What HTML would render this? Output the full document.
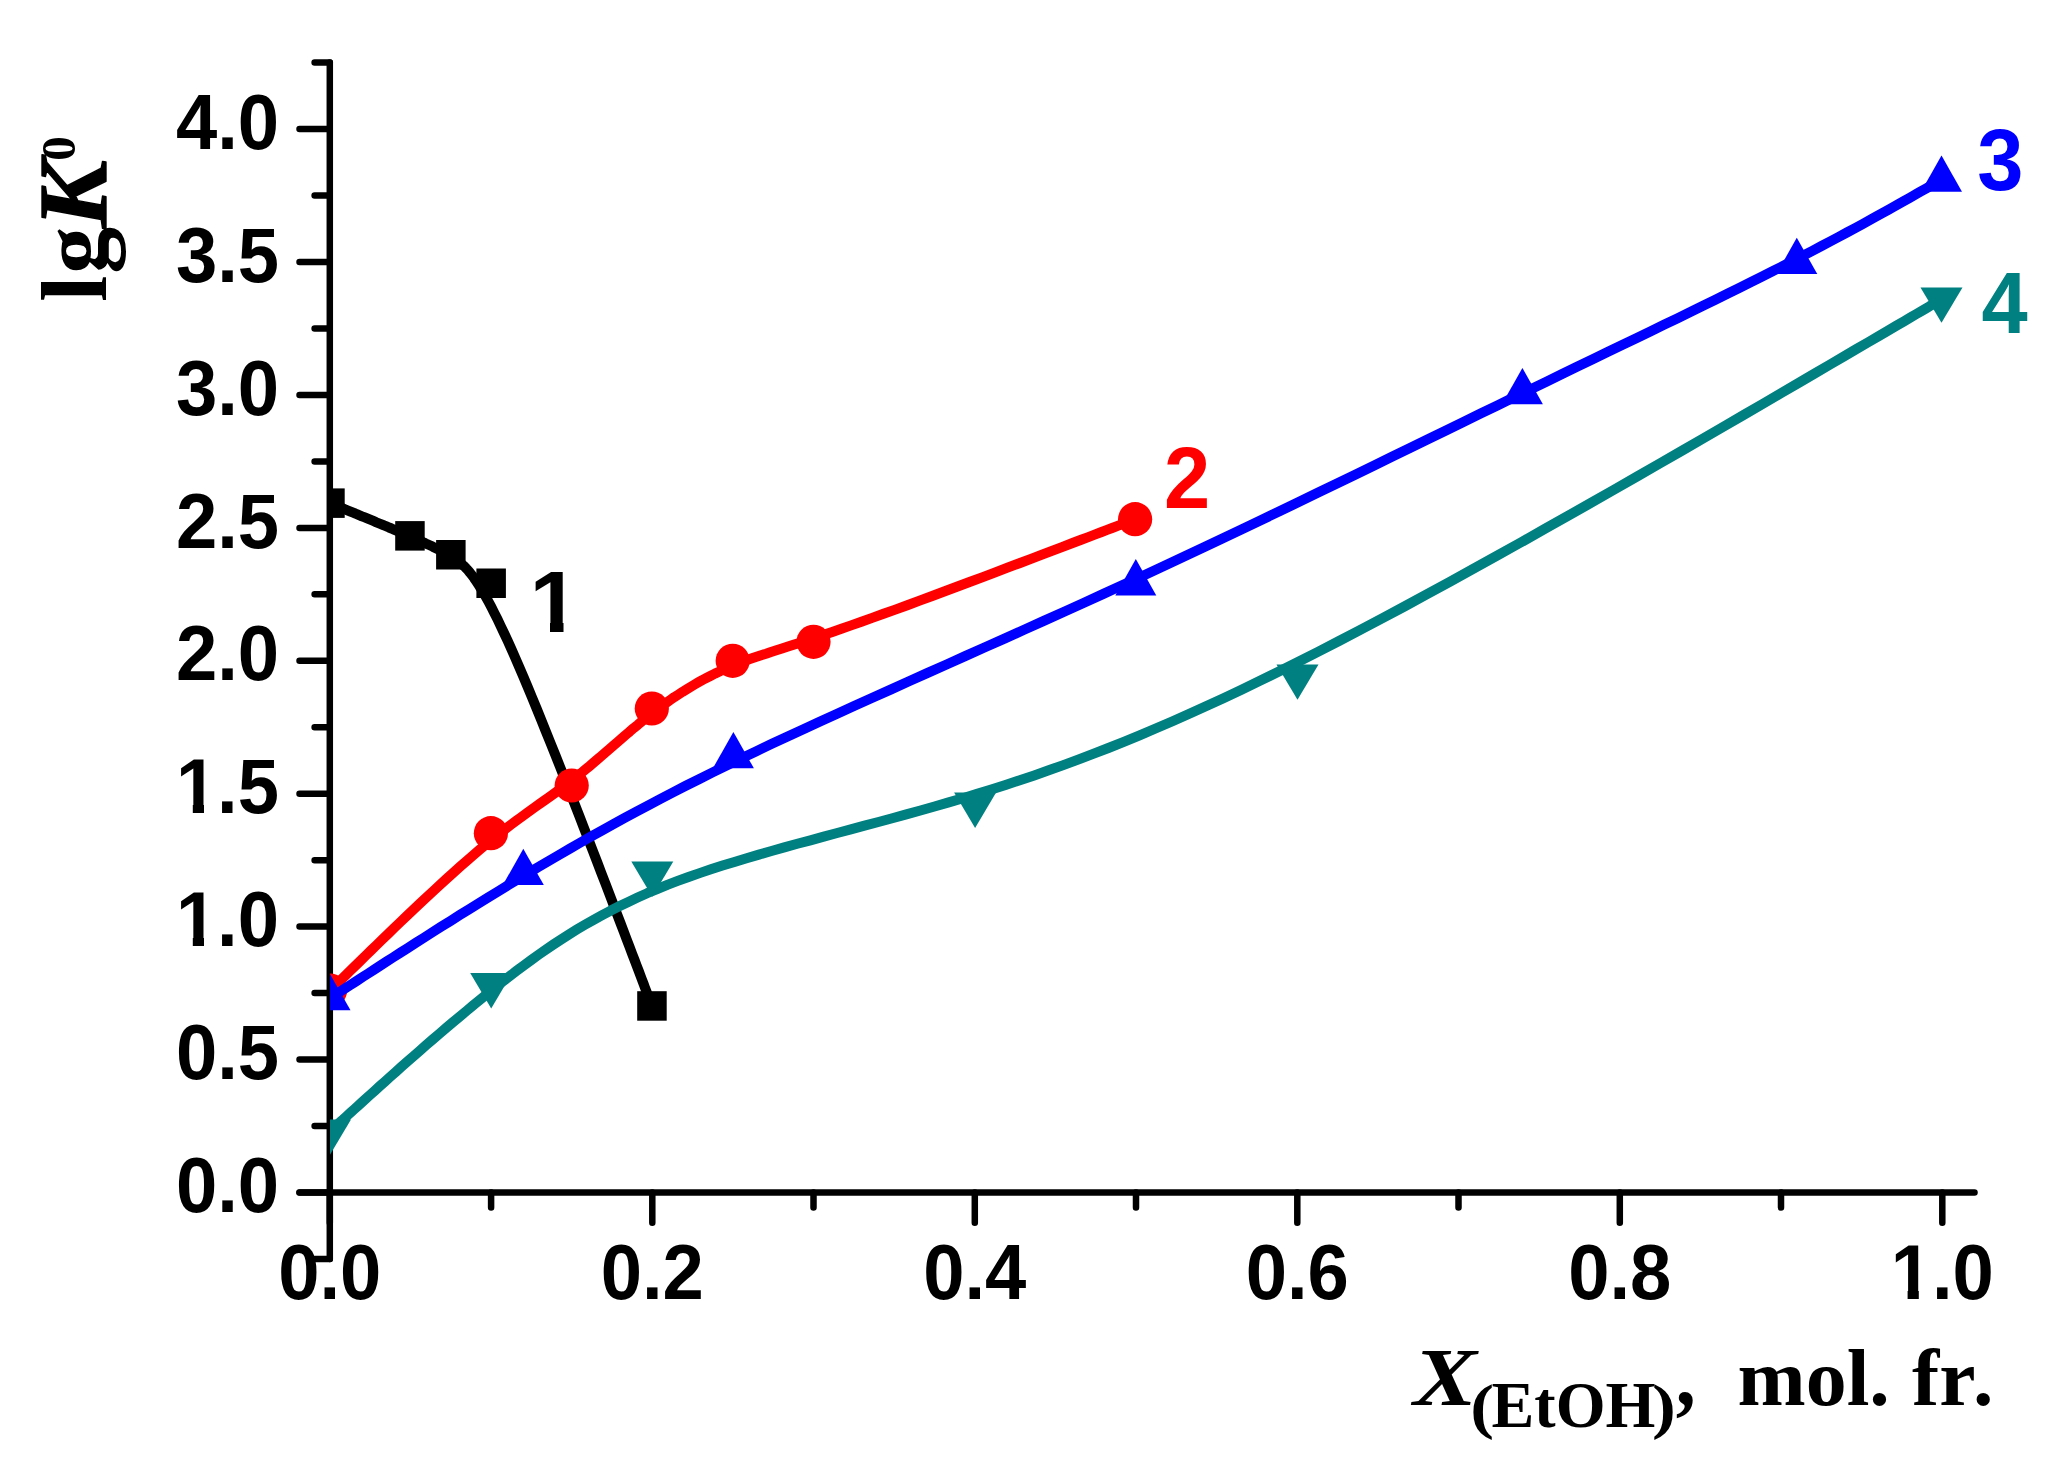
<!DOCTYPE html>
<html lang="en">
<head>
<meta charset="utf-8">
<title>lgK0 vs X(EtOH)</title>
<style>
html,body{margin:0;padding:0;background:#fff;}
body{width:2070px;height:1482px;overflow:hidden;}
svg{display:block;}
</style>
</head>
<body>
<svg width="2070" height="1482" viewBox="0 0 2070 1482">
<rect width="2070" height="1482" fill="#fff"/>
<g stroke="#000" stroke-width="6.5" stroke-linecap="round" stroke-linejoin="round" fill="none">
<path d="M329.8 62.6V1259"/>
<path d="M299.5 1192.5H1974.5"/>
<path d="M314.6 1259H329.8M299.5 1192.5H329.8M314.6 1126H329.8M299.5 1059.6H329.8M314.6 993.1H329.8M299.5 926.6H329.8M314.6 860.2H329.8M299.5 793.7H329.8M314.6 727.3H329.8M299.5 660.8H329.8M314.6 594.3H329.8M299.5 527.9H329.8M314.6 461.4H329.8M299.5 394.9H329.8M314.6 328.5H329.8M299.5 262H329.8M314.6 195.6H329.8M299.5 129.1H329.8M314.6 62.6H329.8"/>
<path d="M329.8 1192.5V1222.7M491.1 1192.5V1207.6M652.3 1192.5V1222.7M813.5 1192.5V1207.6M974.8 1192.5V1222.7M1136 1192.5V1207.6M1297.3 1192.5V1222.7M1458.5 1192.5V1207.6M1619.8 1192.5V1222.7M1781 1192.5V1207.6M1942.3 1192.5V1222.7"/>
</g>
<g font-family="'Liberation Sans',Arial,sans-serif" font-weight="bold" fill="#000">
<text transform="translate(175.9 1212.1) scale(1.0 1.042)" font-size="74.2">0.0</text>
<text transform="translate(175.9 1079.2) scale(1.0 1.042)" font-size="74.2">0.5</text>
<clipPath id="k742"><path d="M-9 -74.2H28.1V9H16.9V-8H-9Z"/></clipPath>
<g transform="translate(175.9 946.2) scale(1.0 1.042)"><text clip-path="url(#k742)" font-size="74.2">1</text></g>
<text transform="translate(217.1 946.2) scale(1.0 1.042)" font-size="74.2">.0</text>
<g transform="translate(175.9 813.3) scale(1.0 1.042)"><text clip-path="url(#k742)" font-size="74.2">1</text></g>
<text transform="translate(217.1 813.3) scale(1.0 1.042)" font-size="74.2">.5</text>
<text transform="translate(175.9 680.4) scale(1.0 1.042)" font-size="74.2">2.0</text>
<text transform="translate(175.9 547.5) scale(1.0 1.042)" font-size="74.2">2.5</text>
<text transform="translate(175.9 414.5) scale(1.0 1.042)" font-size="74.2">3.0</text>
<text transform="translate(175.9 281.6) scale(1.0 1.042)" font-size="74.2">3.5</text>
<text transform="translate(175.9 148.7) scale(1.0 1.042)" font-size="74.2">4.0</text>
<text transform="translate(278.2 1299.3) scale(1.0 1.042)" font-size="74.2">0.0</text>
<text transform="translate(600.7 1299.3) scale(1.0 1.042)" font-size="74.2">0.2</text>
<text transform="translate(923.2 1299.3) scale(1.0 1.042)" font-size="74.2">0.4</text>
<text transform="translate(1245.7 1299.3) scale(1.0 1.042)" font-size="74.2">0.6</text>
<text transform="translate(1568.2 1299.3) scale(1.0 1.042)" font-size="74.2">0.8</text>
<g transform="translate(1890.7 1299.3) scale(1.0 1.042)"><text clip-path="url(#k742)" font-size="74.2">1</text></g>
<text transform="translate(1932 1299.3) scale(1.0 1.042)" font-size="74.2">.0</text>
</g>
<clipPath id="c"><rect x="330" y="0" width="1740" height="1482"/></clipPath>
<g clip-path="url(#c)" fill="none" stroke-width="10" stroke-linejoin="round">
<path stroke="#000" d="M330 503.2L330 503.2L330 503.2L330 503.2L330 503.2L330.1 503.2L330.2 503.3L330.2 503.3L330.4 503.3L330.5 503.4L330.7 503.5L331 503.6L331.2 503.7L331.6 503.8L332 504L332.4 504.2L332.9 504.4L333.5 504.6L334.2 504.9L334.9 505.2L335.7 505.5L336.6 505.9L337.6 506.3L338.7 506.8L339.9 507.2L341.2 507.8L342.6 508.3L344.1 509L345.7 509.6L347.4 510.3L349.3 511.1L351.2 511.9L353.2 512.7L355.3 513.5L357.4 514.4L359.6 515.3L361.9 516.3L364.2 517.2L366.6 518.2L369 519.2L371.5 520.2L373.9 521.2L376.4 522.3L379 523.3L381.5 524.3L384 525.4L386.5 526.4L389 527.5L391.5 528.5L394 529.6L396.4 530.6L398.8 531.6L401.2 532.6L403.5 533.6L405.7 534.5L407.9 535.5L410.1 536.4L412.2 537.3L414.2 538.2L416.2 539.1L418.2 540L420.1 540.8L422 541.7L423.9 542.5L425.7 543.4L427.4 544.2L429.2 545L430.9 545.8L432.6 546.6L434.3 547.5L435.9 548.3L437.5 549.1L439.1 549.9L440.7 550.7L442.3 551.6L443.9 552.4L445.4 553.3L447 554.1L448.5 555L450 555.9L451.6 556.8L453.1 557.7L454.6 558.6L456.2 559.7L457.8 560.8L459.4 562L461 563.4L462.7 564.9L464.5 566.5L466.2 568.4L468.1 570.4L470 572.7L472 575.3L474.1 578.1L476.2 581.2L478.5 584.6L480.8 588.4L483.3 592.5L485.9 597L488.6 601.9L491.4 607.2L494.3 612.9L497.4 619.1L500.6 625.8L504 633L507.6 640.7L511.3 648.9L515.2 657.7L519.2 667L523.4 676.8L527.7 687L532.1 697.6L536.6 708.5L541.2 719.8L545.8 731.3L550.5 743L555.3 754.8L560 766.8L564.8 778.9L569.6 791L574.3 803.1L579 815.1L583.6 827.1L588.2 838.9L592.7 850.5L597.1 861.9L601.3 873L605.5 883.8L609.5 894.2L613.3 904.2L616.9 913.8L620.4 922.9L623.7 931.5L626.7 939.4L629.5 946.8L632.1 953.7L634.5 959.9L636.7 965.7L638.7 970.9L640.5 975.7L642.1 980L643.6 983.9L644.9 987.4L646.1 990.5L647.1 993.2L648 995.6L648.8 997.7L649.5 999.5L650.1 1001L650.6 1002.2L651 1003.2L651.3 1004.1L651.5 1004.7L651.7 1005.2L651.8 1005.5L651.9 1005.8L652 1005.9L652 1006L652 1006L652 1006"/>
<g fill="#000" stroke="none">
<rect x="315.2" y="488.4" width="29.5" height="29.5"/>
<rect x="395.2" y="521.1" width="29.5" height="29.5"/>
<rect x="436.1" y="540" width="29.5" height="29.5"/>
<rect x="476.4" y="568.5" width="29.5" height="29.5"/>
<rect x="637.2" y="991.2" width="29.5" height="29.5"/>
</g>
<path stroke="#f00" d="M330 990.5L330 990.5L330 990.5L330.1 990.4L330.2 990.3L330.4 990.1L330.7 989.8L331.2 989.4L331.7 988.8L332.5 988.1L333.4 987.2L334.5 986.1L335.9 984.7L337.5 983.2L339.4 981.3L341.5 979.2L344 976.8L346.8 974.1L349.9 971L353.4 967.6L357.3 963.8L361.6 959.6L366.3 955L371.3 950.1L376.6 945L382.2 939.5L388.1 933.9L394.1 928L400.4 922L406.8 915.9L413.4 909.7L420 903.4L426.7 897.1L433.5 890.9L440.2 884.6L446.9 878.5L453.6 872.5L460.2 866.6L466.6 860.9L472.9 855.4L479.1 850.2L485 845.2L490.7 840.5L496.3 836.1L501.7 831.8L506.9 827.8L512 823.9L516.9 820.2L521.8 816.7L526.5 813.3L531 810L535.5 806.8L539.9 803.7L544.2 800.6L548.5 797.6L552.7 794.6L556.8 791.6L560.9 788.6L565 785.6L569.1 782.6L573.1 779.4L577.1 776.2L581.2 773L585.2 769.7L589.3 766.3L593.3 762.9L597.4 759.4L601.4 756L605.4 752.5L609.5 749L613.5 745.5L617.6 742L621.6 738.5L625.6 735L629.7 731.6L633.7 728.1L637.8 724.8L641.8 721.4L645.9 718.2L649.9 715L654 711.8L658 708.8L662.1 705.8L666.1 702.9L670.2 700L674.2 697.2L678.3 694.6L682.4 691.9L686.4 689.4L690.5 686.9L694.6 684.5L698.6 682.2L702.7 679.9L706.8 677.8L710.8 675.7L714.9 673.6L719 671.7L723 669.8L727.1 668L731.2 666.2L735.2 664.5L739.3 662.9L743.5 661.4L747.7 659.8L752 658.3L756.5 656.8L761.1 655.2L766 653.7L771 652L776.4 650.3L782 648.5L788 646.6L794.3 644.5L801 642.4L808.1 640L815.7 637.5L823.8 634.8L832.3 631.9L841.4 628.8L851.1 625.4L861.4 621.8L872.2 617.9L883.5 613.8L895.3 609.6L907.3 605.2L919.6 600.6L932.2 596L944.8 591.3L957.5 586.5L970.2 581.8L982.8 577.1L995.3 572.4L1007.5 567.7L1019.4 563.2L1031 558.9L1042 554.7L1052.6 550.6L1062.6 546.8L1071.9 543.3L1080.5 540L1088.3 537.1L1095.3 534.4L1101.6 532L1107.1 529.9L1112.1 528L1116.4 526.3L1120.1 524.9L1123.3 523.7L1126 522.7L1128.3 521.8L1130.1 521.1L1131.6 520.5L1132.8 520.1L1133.6 519.8L1134.2 519.5L1134.7 519.4L1134.9 519.3L1135 519.2L1135.1 519.2L1135.1 519.2"/>
<g fill="#f00" stroke="none">
<circle cx="330" cy="990.5" r="17.1"/>
<circle cx="490.9" cy="833.2" r="17.1"/>
<circle cx="571.7" cy="785.5" r="17.1"/>
<circle cx="651.8" cy="708.5" r="17.1"/>
<circle cx="732.7" cy="660.8" r="17.1"/>
<circle cx="813.5" cy="641.8" r="17.1"/>
<circle cx="1135.1" cy="519.2" r="17.1"/>
</g>
<path stroke="#00f" d="M330 998.2L330 998.2L330 998.2L330.1 998.1L330.3 998L330.5 997.9L330.9 997.6L331.4 997.3L332.1 996.8L333 996.3L334.1 995.5L335.5 994.7L337.1 993.6L339 992.4L341.3 990.9L343.8 989.2L346.8 987.3L350.2 985.1L353.9 982.7L358.1 980L362.8 976.9L368 973.6L373.6 970L379.7 966L386.2 961.8L393.1 957.4L400.3 952.7L407.9 947.9L415.9 942.8L424.1 937.6L432.6 932.1L441.4 926.6L450.5 920.9L459.7 915.1L469.2 909.2L478.8 903.3L488.5 897.2L498.4 891.2L508.4 885.1L518.5 879L528.6 872.9L538.8 866.8L549.1 860.7L559.4 854.7L569.9 848.6L580.5 842.5L591.3 836.4L602.2 830.3L613.4 824.1L624.7 817.9L636.4 811.6L648.3 805.3L660.5 798.9L673 792.4L685.8 785.8L699 779.2L712.6 772.4L726.6 765.5L741 758.5L755.9 751.4L771.3 744.1L787.1 736.7L803.4 729.2L820.1 721.5L837.2 713.7L854.6 705.8L872.4 697.7L890.6 689.6L909 681.3L927.7 672.9L946.6 664.5L965.7 655.9L985 647.3L1004.5 638.6L1024.1 629.8L1043.8 620.9L1063.6 612L1083.5 603L1103.4 593.9L1123.2 584.8L1143.1 575.7L1162.9 566.5L1182.6 557.3L1202.3 548L1221.9 538.7L1241.4 529.5L1260.8 520.2L1280 511L1299.2 501.8L1318.2 492.6L1337 483.5L1355.7 474.5L1374.2 465.5L1392.4 456.6L1410.5 447.8L1428.4 439L1446 430.4L1463.4 422L1480.6 413.6L1497.4 405.4L1514 397.3L1530.3 389.4L1546.4 381.7L1562.1 374L1577.5 366.6L1592.7 359.3L1607.5 352.1L1622.1 345.1L1636.3 338.2L1650.3 331.4L1663.9 324.8L1677.2 318.4L1690.3 312L1703 305.8L1715.4 299.8L1727.4 293.8L1739.2 288L1750.6 282.3L1761.7 276.8L1772.5 271.3L1783 266L1793.1 260.8L1802.9 255.8L1812.4 250.8L1821.5 246L1830.3 241.4L1838.8 236.9L1846.9 232.5L1854.7 228.3L1862.1 224.3L1869.2 220.4L1875.9 216.7L1882.3 213.2L1888.3 209.8L1894 206.7L1899.3 203.7L1904.2 200.9L1908.8 198.3L1913.1 195.9L1916.9 193.7L1920.4 191.7L1923.6 189.9L1926.4 188.3L1928.9 186.9L1931.1 185.6L1933.1 184.5L1934.8 183.5L1936.2 182.7L1937.4 182L1938.4 181.4L1939.3 181L1939.9 180.6L1940.4 180.3L1940.8 180.1L1941.1 179.9L1941.3 179.8L1941.4 179.7L1941.5 179.7L1941.5 179.7L1941.5 179.7"/>
<g fill="#00f" stroke="none">
<path d="M330 974L350.5 1010.3H309.5Z"/>
<path d="M523.3 848.8L543.8 885.1H502.8Z"/>
<path d="M733.4 732L753.9 768.3H712.9Z"/>
<path d="M1135.8 559.1L1156.3 595.4H1115.3Z"/>
<path d="M1522.4 368L1542.9 404.3H1501.9Z"/>
<path d="M1796.8 237.8L1817.3 274.1H1776.3Z"/>
<path d="M1941.5 155.5L1962 191.8H1921Z"/>
</g>
<path stroke="#008080" d="M330 1131.3L330 1131.3L330 1131.3L330.1 1131.2L330.1 1131.2L330.3 1131L330.5 1130.9L330.8 1130.6L331.2 1130.2L331.7 1129.8L332.3 1129.2L333.1 1128.5L334 1127.7L335 1126.7L336.3 1125.6L337.7 1124.3L339.4 1122.8L341.3 1121.1L343.4 1119.2L345.7 1117L348.3 1114.6L351.2 1112L354.4 1109.1L357.9 1106L361.7 1102.5L365.8 1098.8L370.1 1094.9L374.8 1090.7L379.6 1086.3L384.8 1081.7L390.1 1076.9L395.7 1071.9L401.4 1066.8L407.4 1061.5L413.5 1056.2L419.8 1050.7L426.2 1045.1L432.8 1039.4L439.4 1033.7L446.2 1027.9L453 1022.1L460 1016.3L467 1010.5L474 1004.6L481.1 998.9L488.1 993.1L495.2 987.4L502.3 981.8L509.5 976.3L516.6 970.8L523.8 965.4L531.1 960.1L538.5 954.8L545.9 949.6L553.4 944.5L561.1 939.5L568.9 934.5L576.8 929.6L584.9 924.8L593.2 920.1L601.7 915.4L610.3 910.8L619.2 906.3L628.3 901.9L637.6 897.5L647.2 893.2L657.1 889.1L667.3 884.9L677.7 880.9L688.5 877L699.6 873.1L710.9 869.3L722.5 865.6L734.4 861.9L746.6 858.2L758.9 854.6L771.5 851L784.3 847.4L797.3 843.8L810.4 840.3L823.7 836.7L837.2 833L850.8 829.4L864.5 825.7L878.4 822L892.3 818.2L906.3 814.4L920.4 810.5L934.5 806.5L948.7 802.4L962.9 798.2L977.1 793.9L991.3 789.5L1005.5 784.9L1019.8 780.2L1034.2 775.4L1048.7 770.3L1063.3 765.1L1078.1 759.6L1093.1 753.9L1108.4 748L1123.8 741.8L1139.6 735.3L1155.6 728.5L1172 721.5L1188.8 714L1205.9 706.3L1223.5 698.2L1241.5 689.7L1259.9 680.8L1278.9 671.5L1298.4 661.8L1318.4 651.6L1339 641L1360.3 629.9L1382.1 618.4L1404.4 606.5L1427.1 594.2L1450.2 581.6L1473.6 568.7L1497.1 555.7L1520.7 542.5L1544.3 529.2L1567.9 515.9L1591.3 502.7L1614.4 489.5L1637.3 476.4L1659.7 463.5L1681.7 450.9L1703.1 438.5L1723.8 426.5L1743.8 414.9L1763 403.7L1781.3 393L1798.7 382.9L1814.9 373.4L1830.1 364.5L1844 356.4L1856.7 348.9L1868.2 342.2L1878.7 336.1L1888.1 330.6L1896.5 325.6L1904 321.3L1910.6 317.4L1916.4 314L1921.4 311.1L1925.7 308.6L1929.3 306.4L1932.3 304.7L1934.8 303.2L1936.8 302L1938.4 301.1L1939.5 300.5L1940.4 300L1940.9 299.6L1941.3 299.4L1941.4 299.3L1941.5 299.3L1941.5 299.3"/>
<g fill="#008080" stroke="none">
<path d="M330 1154.8L351 1119.5H309Z"/>
<path d="M491.2 1008.4L512.2 973.1H470.2Z"/>
<path d="M652.3 896.7L673.3 861.4H631.3Z"/>
<path d="M975.1 827.9L996.1 792.6H954.1Z"/>
<path d="M1297.5 699.7L1318.5 664.4H1276.5Z"/>
<path d="M1941.5 322.8L1962.5 287.5H1920.5Z"/>
</g>
</g>
<g font-family="'Liberation Sans',Arial,sans-serif" font-weight="bold">
<clipPath id="k830"><path d="M-9 -83H31.4V9H18.9V-8.9H-9Z"/></clipPath>
<g transform="translate(529.6 632) scale(1.08 1.042)"><text clip-path="url(#k830)" font-size="83" fill="#000">1</text></g>
<text transform="translate(1164 508) scale(1.0 1.042)" font-size="83" fill="#f00">2</text>
<text transform="translate(1977.3 190) scale(1.0 1.042)" font-size="83" fill="#00f">3</text>
<text transform="translate(1981.5 333) scale(1.0 1.042)" font-size="83" fill="#008080">4</text>
</g>
<g font-family="'Liberation Serif','Times New Roman',serif" font-weight="bold" fill="#000" style="font-kerning:none">
<g transform="translate(105.5 301.8) rotate(-90)">
<text x="0" y="0" font-size="94">l</text>
<text x="28" y="0" font-size="94">g</text>
<text transform="translate(73.6 0) scale(1.05 1)" font-size="97" font-style="italic" stroke="#000" stroke-width="1.4" stroke-linejoin="round">K</text>
<text x="141" y="-31" font-size="49">0</text>
</g>
<text transform="translate(1413.2 1405.3) scale(1.149 1)" font-size="83" font-style="italic">X</text>
<text transform="translate(1470.3 1426.6) scale(1.15 1)" font-size="62.2">(</text>
<text transform="translate(1491.6 1427.2) scale(0.992 1)" font-size="64.6">EtOH</text>
<text transform="translate(1652 1426.6) scale(1.15 1)" font-size="62.2">)</text>
<text transform="translate(1675.7 1405.3) scale(0.93 1)" font-size="86">,</text>
<text transform="translate(1737.6 1405.3) scale(1.015 1)" font-size="80.6">mol.</text>
<text transform="translate(1911.9 1405.3) scale(1.015 1)" font-size="80.6">fr</text>
<text transform="translate(1973 1405.3) scale(1.015 1)" font-size="80.6">.</text>
</g>
</svg>
</body>
</html>
